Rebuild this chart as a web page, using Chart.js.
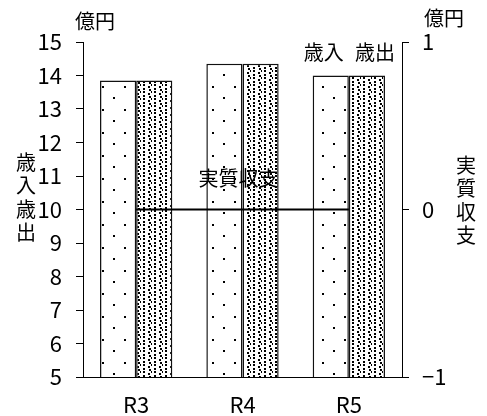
<!DOCTYPE html>
<html>
<head>
<meta charset="utf-8">
<script src="https://cdn.jsdelivr.net/npm/chart.js@4.4.1/dist/chart.umd.min.js"></script>
<style>
  html, body { margin: 0; padding: 0; background: #fff; }
  #wrap { width: 487px; height: 416px; }
</style>
</head>
<body>
<div id="wrap"><canvas id="c" width="487" height="416"></canvas></div>
<script>
// 年度
const years = ['R3', 'R4', 'R5'];
// 歳入・歳出（億円）
const revenue = [13.85, 14.35, 14.0];
const expenditure = [13.85, 14.35, 14.0];
// 実質収支（億円）
const realBalance = [0, 0, 0];

const seriesNames = ['歳入', '歳出', '実質収支'];
const unitLabel = '億円';
const leftTitle = '歳入歳出';
const rightTitle = '実質収支';
const leftRange = [5, 15];
const rightRange = [-1, 1];

const CJK = '"Noto Sans CJK JP", "Noto Sans", sans-serif';

// 網掛けパターン
function makePattern(w, h, dots) {
  const cv = document.createElement('canvas');
  cv.width = w; cv.height = h;
  const g = cv.getContext('2d');
  g.fillStyle = '#fff';
  g.fillRect(0, 0, w, h);
  g.fillStyle = '#000';
  dots.forEach(([x, y, dw, dh]) => g.fillRect(x, y, dw || 2, dh || 2));
  return g.createPattern(cv, 'repeat');
}
const ctx0 = document.getElementById('c').getContext('2d');
const sparse = makePattern(22, 23, [[14, 17], [3, 5]]);
const dense = makePattern(11, 7, [[0, 0], [0, 4], [5, 2], [6, 5], [8, 0, 1, 2]]);

const annotate = {
  id: 'annotate',
  afterDraw(chart) {
    const { ctx, chartArea: a } = chart;
    ctx.save();
    ctx.fillStyle = '#000';
    ctx.font = '20px ' + CJK;
    ctx.textAlign = 'center';
    ctx.textBaseline = 'middle';
    // 単位
    ctx.fillText(unitLabel, a.left + 12, a.top - 21);
    ctx.fillText(unitLabel, a.right + 42, a.top - 24);
    // 系列名（最終年度の棒の上）
    const last = years.length - 1;
    const b1 = chart.getDatasetMeta(0).data[last];
    const b2 = chart.getDatasetMeta(1).data[last];
    const ty = Math.min(b1.y, b2.y) - 23;
    ctx.fillText(seriesNames[0], b1.x - 7, ty);
    ctx.fillText(seriesNames[1], b2.x + 8, ty);
    // 実質収支の線ラベル
    const p = chart.getDatasetMeta(2).data[1];
    ctx.fillText(seriesNames[2], p.x - 4, p.y - 31);
    // 縦書きの軸タイトル
    const mid = (a.top + a.bottom) / 2;
    const vertical = (text, x, cy) => {
      const chars = [...text];
      const step = 23.5;
      const y0 = cy - step * (chars.length - 1) / 2;
      chars.forEach((ch, i) => ctx.fillText(ch, x, y0 + i * step));
    };
    vertical(leftTitle, 26, mid - 12);
    vertical(rightTitle, a.right + 64, mid - 9);
    ctx.restore();
  }
};

const axisGrid = {
  display: true,
  drawOnChartArea: false,
  drawTicks: true,
  tickLength: 7,
  color: '#000',
  lineWidth: 1
};

new Chart(ctx0, {
  data: {
    labels: years,
    datasets: [
      {
        type: 'bar', label: seriesNames[0], data: revenue, yAxisID: 'y',
        backgroundColor: sparse, borderColor: '#111', borderWidth: 1.5,
        categoryPercentage: 0.68, barPercentage: 1.0, order: 1
      },
      {
        type: 'bar', label: seriesNames[1], data: expenditure, yAxisID: 'y',
        backgroundColor: dense, borderColor: '#111', borderWidth: 1.5,
        categoryPercentage: 0.68, barPercentage: 1.0, order: 1
      },
      {
        type: 'line', label: seriesNames[2], data: realBalance, yAxisID: 'y2',
        borderColor: '#000', borderWidth: 2, pointRadius: 0, fill: false,
        order: 0
      }
    ]
  },
  options: {
    responsive: false,
    animation: false,
    devicePixelRatio: 1,
    layout: { padding: { top: 42, left: 0, right: 0, bottom: 0 } },
    plugins: { legend: { display: false }, tooltip: { enabled: false } },
    scales: {
      x: {
        grid: { display: false },
        border: { display: true, color: '#000', width: 1 },
        ticks: { color: '#000', font: { family: CJK, size: 22 }, padding: 6 },
        afterFit(s) { s.height = 39; }
      },
      y: {
        position: 'left',
        min: leftRange[0], max: leftRange[1],
        grid: axisGrid,
        border: { display: true, color: '#000', width: 1 },
        ticks: { stepSize: 1, color: '#000', font: { family: CJK, size: 22 }, padding: 14 },
        afterFit(s) { s.width = 83; }
      },
      y2: {
        position: 'right',
        min: rightRange[0], max: rightRange[1],
        grid: axisGrid,
        border: { display: true, color: '#000', width: 1 },
        ticks: {
          stepSize: 1, color: '#000', font: { family: CJK, size: 22 }, padding: 13,
          callback: v => (v < 0 ? '\u2212' + Math.abs(v) : String(v))
        },
        afterFit(s) { s.width = 85; }
      }
    }
  },
  plugins: [annotate]
});
</script>
</body>
</html>
